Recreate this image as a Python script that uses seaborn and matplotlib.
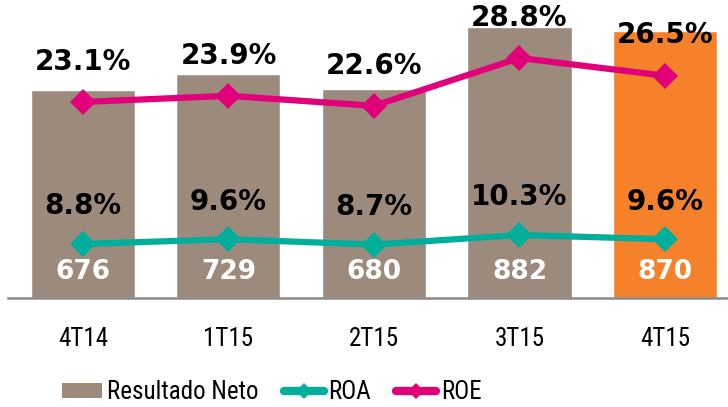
import matplotlib
matplotlib.use("Agg")
import matplotlib.pyplot as plt
from matplotlib import font_manager
import seaborn as sns
import numpy as np
from matplotlib.patches import Patch
from matplotlib.lines import Line2D

# data
quarters = ["4T14", "1T15", "2T15", "3T15", "4T15"]
resultado_neto = [676, 729, 680, 882, 870]
roa = [8.8, 9.6, 8.7, 10.3, 9.6]
roe = [23.1, 23.9, 22.6, 28.8, 26.5]

gray = "#9C8B7D"
orange = "#F5822A"
teal = "#00AE9C"
magenta = "#E2007A"
bar_colors = [gray, gray, gray, gray, orange]

sns.set_style("white")
plt.rcParams["font.family"] = ["DejaVu Sans"]
plt.rcParams["text.color"] = "black"
plt.rcParams["xtick.color"] = "black"

# a condensed face for the ticks and legend, if one is around
names = {f.name for f in font_manager.fontManager.ttflist}
stretches = {(f.name, f.stretch) for f in font_manager.fontManager.ttflist}
narrow_font = {"family": ["DejaVu Sans"], "stretch": "normal", "size": 16}
for cand in ["Liberation Sans Narrow", "Arial Narrow", "Roboto Condensed",
             "Open Sans Condensed", "DejaVu Sans Condensed"]:
    if cand in names:
        narrow_font = {"family": [cand], "stretch": "normal", "size": 18}
        break
else:
    if any(n == "DejaVu Sans" and s == "condensed" for n, s in stretches):
        narrow_font = {"family": ["DejaVu Sans"], "stretch": "condensed", "size": 18}
    elif any(n == "Roboto" and s == "condensed" for n, s in stretches):
        narrow_font = {"family": ["Roboto"], "stretch": "condensed", "size": 18}

fig = plt.figure(figsize=(7.28, 4.07), dpi=100)
ax = fig.add_axes([8 / 728, 109 / 407, 720 / 728, 293 / 407])

sns.barplot(x=quarters, y=resultado_neto, hue=quarters, palette=bar_colors,
            width=0.715, saturation=1, legend=False, ax=ax)
ax.set_ylim(0, 954)
ax.set_xlim(-0.515, 4.433)
ax.set_yticks([])
ax.set_ylabel("")
for s in ["top", "right", "left"]:
    ax.spines[s].set_visible(False)
ax.spines["bottom"].set_color("#8A8A8A")
ax.spines["bottom"].set_linewidth(1.8)
ax.tick_params(axis="x", length=0, pad=21)
for lbl in ax.get_xticklabels():
    lbl.set_family(narrow_font["family"])
    lbl.set_stretch(narrow_font["stretch"])
    lbl.set_fontsize(narrow_font["size"])

xpos = np.arange(len(quarters))

# bar value labels, white, near the base
for x, v in zip(xpos, resultado_neto):
    ax.text(x, 85, f"{v}", color="white", ha="center", va="center",
            fontsize=19, weight="bold")

ax_roe = ax.twinx()
ax_roa = ax.twinx()
for a in (ax_roe, ax_roa):
    a.set_yticks([])
    for s in a.spines.values():
        s.set_visible(False)
ax_roe.set_ylim(-2.29, 35.66)
ax_roa.set_ylim(-0.2, 48.63)

sns.lineplot(x=xpos, y=roe, ax=ax_roe, color=magenta, linewidth=4.5,
             marker="D", markersize=13, markeredgewidth=0)
sns.lineplot(x=xpos, y=roa, ax=ax_roa, color=teal, linewidth=4.5,
             marker="D", markersize=13, markeredgewidth=0)

for x, v in zip(xpos, roe):
    ax_roe.annotate(f"{v:.1f}%", (x, v), xytext=(0, 29), textcoords="offset points",
                    ha="center", va="center", fontsize=20, weight="bold")
for x, v in zip(xpos, roa):
    ax_roa.annotate(f"{v:.1f}%", (x, v), xytext=(0, 27), textcoords="offset points",
                    ha="center", va="center", fontsize=20, weight="bold")

handles = [
    Patch(facecolor=gray, edgecolor="none"),
    Line2D([], [], color=teal, lw=6, marker="D", markersize=8, markeredgewidth=0),
    Line2D([], [], color=magenta, lw=6, marker="D", markersize=8, markeredgewidth=0),
]
fig.legend(handles, ["Resultado Neto", "ROA", "ROE"], loc="center",
           bbox_to_anchor=(272 / 728, 15 / 407), ncol=3, frameon=False,
           prop=font_manager.FontProperties(**narrow_font), handlelength=1.6,
           handletextpad=0.2, columnspacing=1.0, handleheight=0.55)

fig.savefig("out.png", dpi=100)
